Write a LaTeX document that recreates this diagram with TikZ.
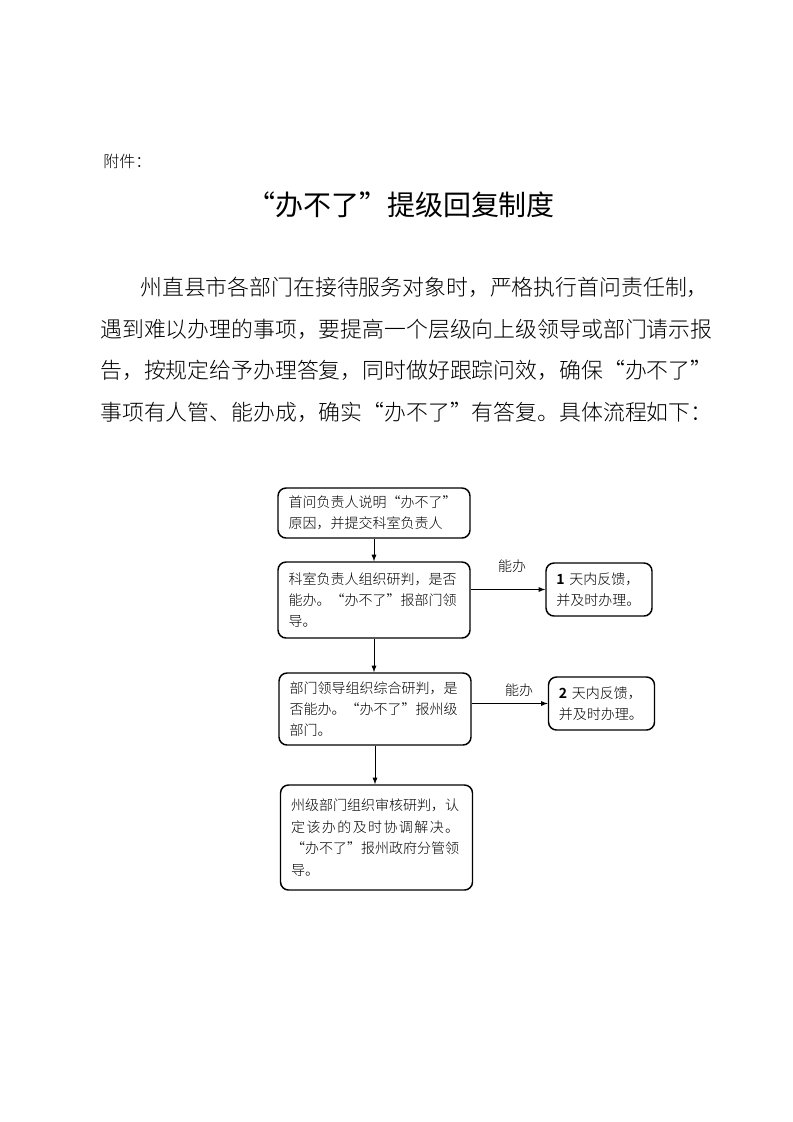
\documentclass[tikz,border=0pt]{standalone}
\usepackage{fontspec}
\setmainfont{Noto Sans CJK SC}
\newfontfamily\thin{Noto Sans CJK SC Light}
\usepackage{tikz}
\usetikzlibrary{positioning}

\begin{document}
\begin{tikzpicture}[x=0.75pt,y=-0.75pt]
\tikzstyle{main}=[rectangle, rounded corners=6pt, draw=black, line width=1.1pt, align=left, font=\thin\fontsize{10.5}{15.5}\selectfont]
\tikzstyle{wide}=[main, text width=128pt, inner xsep=8pt]
\tikzstyle{side}=[main, text width=64pt, inner xsep=7.75pt, minimum height=39.75pt]
\tikzstyle{connect}=[-latex, line width=0.7pt]
\tikzstyle{para}=[anchor=west, inner sep=0pt, font=\thin\fontsize{16.4}{16.4}\selectfont]
\useasboundingbox (0,0) rectangle (793,1122);
  % heading
  \node[anchor=west, inner sep=0pt, font=\thin\fontsize{12}{12}\selectfont] (H) at (103,161) {附件：};
  \node[inner sep=0pt, font=\fontsize{21}{21}\selectfont] (T) at (401,205) {“办不了”提级回复制度};
  \node[para] (P1) at (140,287) {州直县市各部门在接待服务对象时，严格执行首问责任制，};
  \node[para] (P2) at (100,329) {遇到难以办理的事项，要提高一个层级向上级领导或部门请示报};
  \node[para] (P3) at (100,370) {告，按规定给予办理答复，同时做好跟踪问效，确保“办不了”};
  \node[para] (P4) at (100,412) {事项有人管、能办成，确实“办不了”有答复。具体流程如下：};
  % flow
  \node[wide, minimum height=37.5pt] (S1) at (374,513) {首问负责人说明“办不了”\\原因，并提交科室负责人};
  \node[wide, minimum height=57pt] (S2) at (374,600) {科室负责人组织研判，是否\\能办。“办不了”报部门领\\导。};
  \node[wide, minimum height=54pt] (S3) at (375,709) {部门领导组织综合研判，是\\否能办。“办不了”报州级\\部门。};
  \node[wide, minimum height=78.75pt, font=\thin\fontsize{10.5}{16.2}\selectfont] (S4) at (376.5,837.5) {州级部门组织审核研判，认\\\makebox[126pt][s]{定\hfil 该\hfil 办\hfil 的\hfil 及\hfil 时\hfil 协\hfil 调\hfil 解\hfil 决\hfil 。}\\“办不了”报州政府分管领\\导。};
  \node[side] (F1) at (599,589.5) {{\fontspec{Noto Sans CJK SC Bold}1} 天内反馈，\\并及时办理。};
  \node[side] (F2) at (601.5,703.5) {{\fontspec{Noto Sans CJK SC Bold}2} 天内反馈，\\并及时办理。};
  \node[font=\thin\fontsize{10.5}{10.5}\selectfont] (N1) at (512,566) {能办};
  \node[font=\thin\fontsize{10.5}{10.5}\selectfont] (N2) at (519,690) {能办};
  \path
        (S1.south) edge [connect] (S1.south |- S2.north)
        (S2.south) edge [connect] (S2.south |- S3.north)
        (S3.south) edge [connect] (S3.south |- S4.north)
        (S2.east |- F1.west) edge [connect] (F1.west)
        (S3.east |- F2.west) edge [connect] (F2.west);
\end{tikzpicture}
\end{document}
